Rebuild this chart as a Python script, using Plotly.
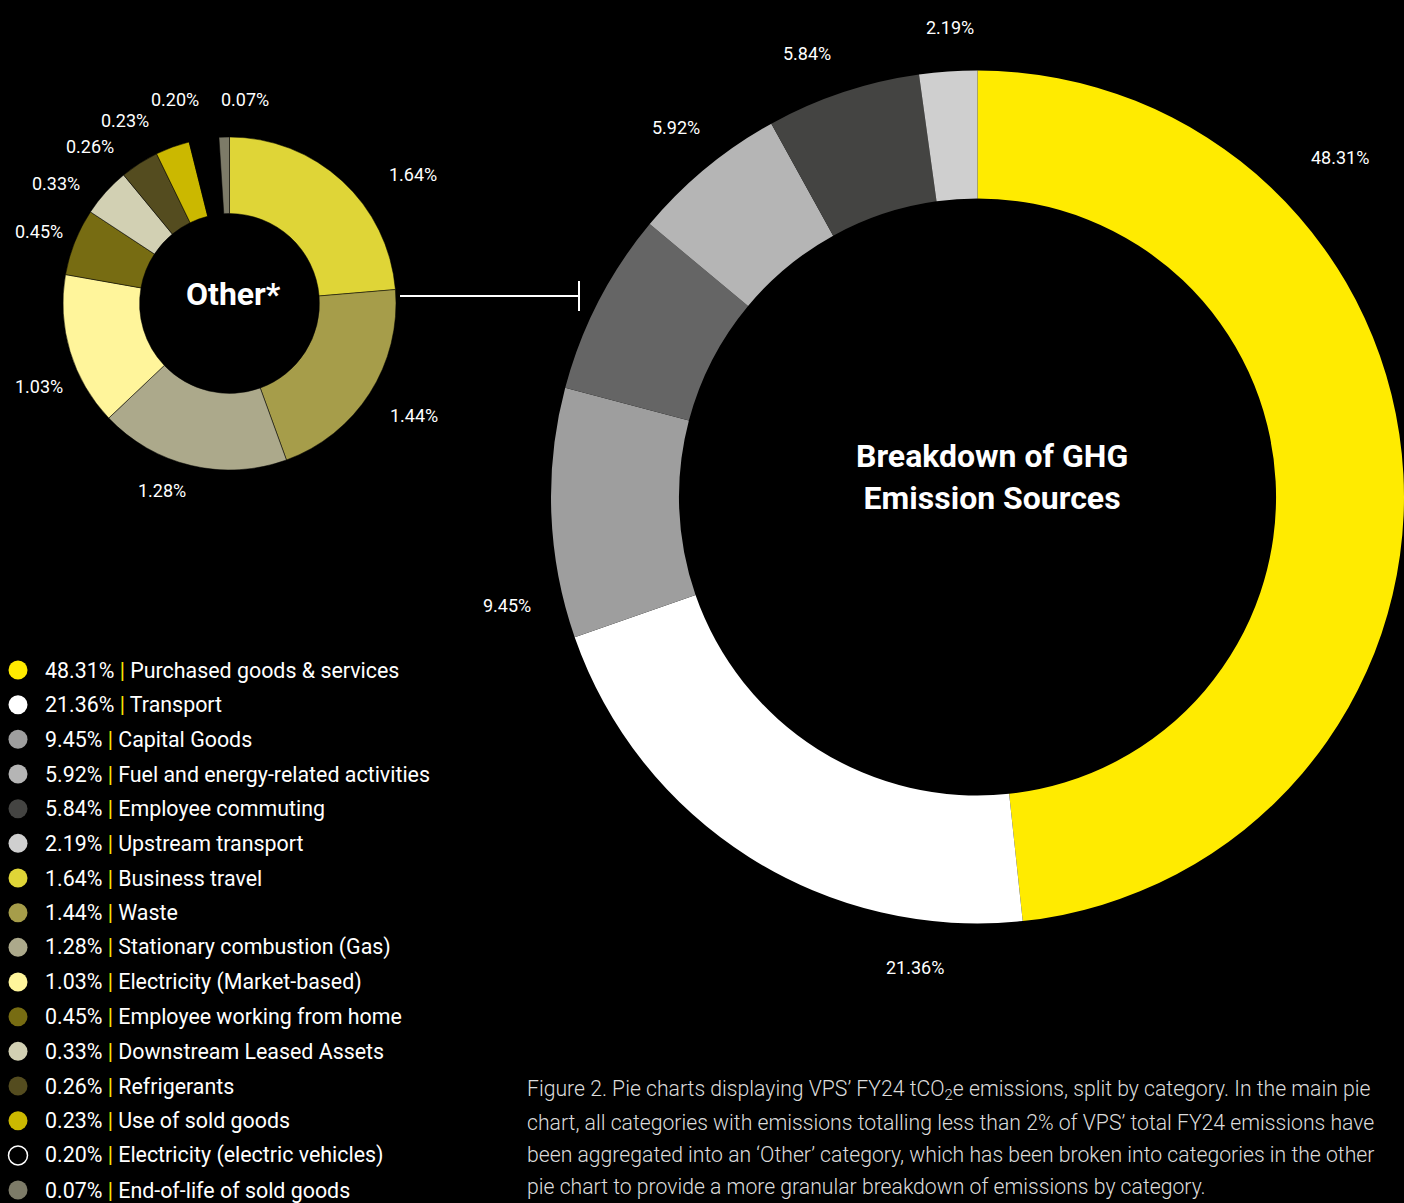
import plotly.graph_objects as go

W, H = 1404, 1203

# Main breakdown (categories >= 2%)
main_names = ["Purchased goods & services", "Transport", "Capital Goods",
              "Fuel and energy-related activities", "Employee commuting",
              "Upstream transport"]
main_values = [48.31, 21.36, 9.45, 5.92, 5.84, 2.19]
main_colors = ["#ffeb00", "#ffffff", "#9e9e9e", "#b5b5b5", "#444442", "#cfcfcf"]

# Categories aggregated into "Other"
other_names = ["Business travel", "Waste", "Stationary combustion (Gas)",
               "Electricity (Market-based)", "Employee working from home",
               "Downstream Leased Assets", "Refrigerants", "Use of sold goods",
               "Electricity (electric vehicles)", "End-of-life of sold goods"]
other_values = [1.64, 1.44, 1.28, 1.03, 0.45, 0.33, 0.26, 0.23, 0.20, 0.07]
other_colors = ["#dfd537", "#a69d4a", "#aca98b", "#fff59b", "#776c12",
                "#d2d0b3", "#544c1f", "#cbb800", "#000000", "#7d7b68"]
other_color = "#656565"

other_total = round(sum(other_values), 2)

# Main donut: "Other" sits between Capital Goods and Fuel/energy
pie_labels = main_names[:3] + ["Other*"] + main_names[3:]
pie_values = main_values[:3] + [other_total] + main_values[3:]
pie_colors = main_colors[:3] + [other_color] + main_colors[3:]

FONT = "Roboto, 'Open Sans', sans-serif"


def px(x0, x1, y0, y1):
    """Pixel box (top-left origin) -> paper domain."""
    return dict(x=[x0 / W, x1 / W], y=[1 - y1 / H, 1 - y0 / H])


legend_names = main_names + other_names
legend_values = main_values + other_values
legend_colors = main_colors + other_colors
legend_rows = [670 + i * 34.67 for i in range(len(legend_names))]
# the black slice is shown in the legend as a hollow white ring
legend_outline = [1.5 if c == "#000000" else 0 for c in legend_colors]

fig = go.Figure()

# legend markers on a pixel-unit cartesian frame
fig.add_trace(go.Scatter(
    x=[18] * len(legend_names), y=legend_rows, mode="markers",
    marker=dict(size=19, color=legend_colors,
                line=dict(width=legend_outline, color="#ffffff")),
    hoverinfo="skip", showlegend=False,
))

fig.add_trace(go.Pie(
    labels=pie_labels, values=pie_values, sort=False, direction="clockwise",
    rotation=0, hole=0.70, marker=dict(colors=pie_colors, line=dict(width=0)),
    textinfo="none", hoverinfo="label+value", showlegend=False,
    domain=px(551, 1404, 70.5, 923.5),
))

fig.add_trace(go.Pie(
    labels=other_names, values=other_values, sort=False, direction="clockwise",
    rotation=0, hole=0.54,
    marker=dict(colors=other_colors, line=dict(width=0.5, color="#000000")),
    textinfo="none", hoverinfo="label+value", showlegend=False,
    domain=px(63, 396, 137, 470),
))

annotations = []

# value labels around the main donut
main_label_pos = [(1340, 157), (915, 967), (507, 605), (676, 127), (807, 53), (950, 27)]
for v, (x, y) in zip(main_values, main_label_pos):
    annotations.append(dict(x=x, y=y, xref="x", yref="y", text=f"{v:.2f}%",
                            showarrow=False, font=dict(size=18, color="#ffffff", family=FONT)))

# value labels around the "Other" donut
other_label_pos = [(413, 174), (414, 415), (162, 490), (39, 386), (39, 231),
                   (56, 183), (90, 146), (125, 120), (175, 99), (245, 99)]
for v, (x, y) in zip(other_values, other_label_pos):
    annotations.append(dict(x=x, y=y, xref="x", yref="y", text=f"{v:.2f}%",
                            showarrow=False, font=dict(size=18, color="#ffffff", family=FONT)))

# centre titles
annotations.append(dict(x=233, y=294, xref="x", yref="y", text="<b>Other*</b>",
                        showarrow=False, font=dict(size=32, color="#ffffff", family=FONT)))
annotations.append(dict(x=992, y=477, xref="x", yref="y",
                        text="<b>Breakdown of GHG<br>Emission Sources</b>",
                        showarrow=False, font=dict(size=32, color="#ffffff", family=FONT)))

# legend text
for n, v, y in zip(legend_names, legend_values, legend_rows):
    annotations.append(dict(
        x=43, y=y, xref="x", yref="y", xanchor="left", yanchor="middle",
        text=f"{v:.2f}%<span style='color:#ffe800'>  |  </span>{n}".replace("  |  ", " | "),
        showarrow=False, font=dict(size=21.4, color="#ffffff", family=FONT)))

# caption
caption = [
    "Figure 2. Pie charts displaying VPS’ FY24 tCO<sub>2</sub>e emissions, split by category. In the main pie",
    "chart, all categories with emissions totalling less than 2% of VPS’ total FY24 emissions have",
    "been aggregated into an ‘Other’ category, which has been broken into categories in the other",
    "pie chart to provide a more granular breakdown of emissions by category.",
]
for i, line in enumerate(caption):
    annotations.append(dict(
        x=525, y=1090 + i * 32, xref="x", yref="y", xanchor="left", yanchor="middle",
        text=line, showarrow=False,
        font=dict(size=21.2, color="#dcdcdc", family=FONT, weight=300)))

# connector between the two donuts
shapes = [
    dict(type="line", xref="x", yref="y", x0=400, y0=296, x1=579, y1=296,
         line=dict(color="#ffffff", width=2)),
    dict(type="line", xref="x", yref="y", x0=579, y0=281, x1=579, y1=311,
         line=dict(color="#ffffff", width=2)),
]

fig.update_layout(
    width=W, height=H,
    margin=dict(l=0, r=0, t=0, b=0),
    paper_bgcolor="#000000", plot_bgcolor="#000000",
    xaxis=dict(range=[0, W], visible=False, fixedrange=True),
    yaxis=dict(range=[H, 0], visible=False, fixedrange=True),
    annotations=annotations, shapes=shapes,
    font=dict(family=FONT, color="#ffffff"),
)

fig.write_html("out.html")
